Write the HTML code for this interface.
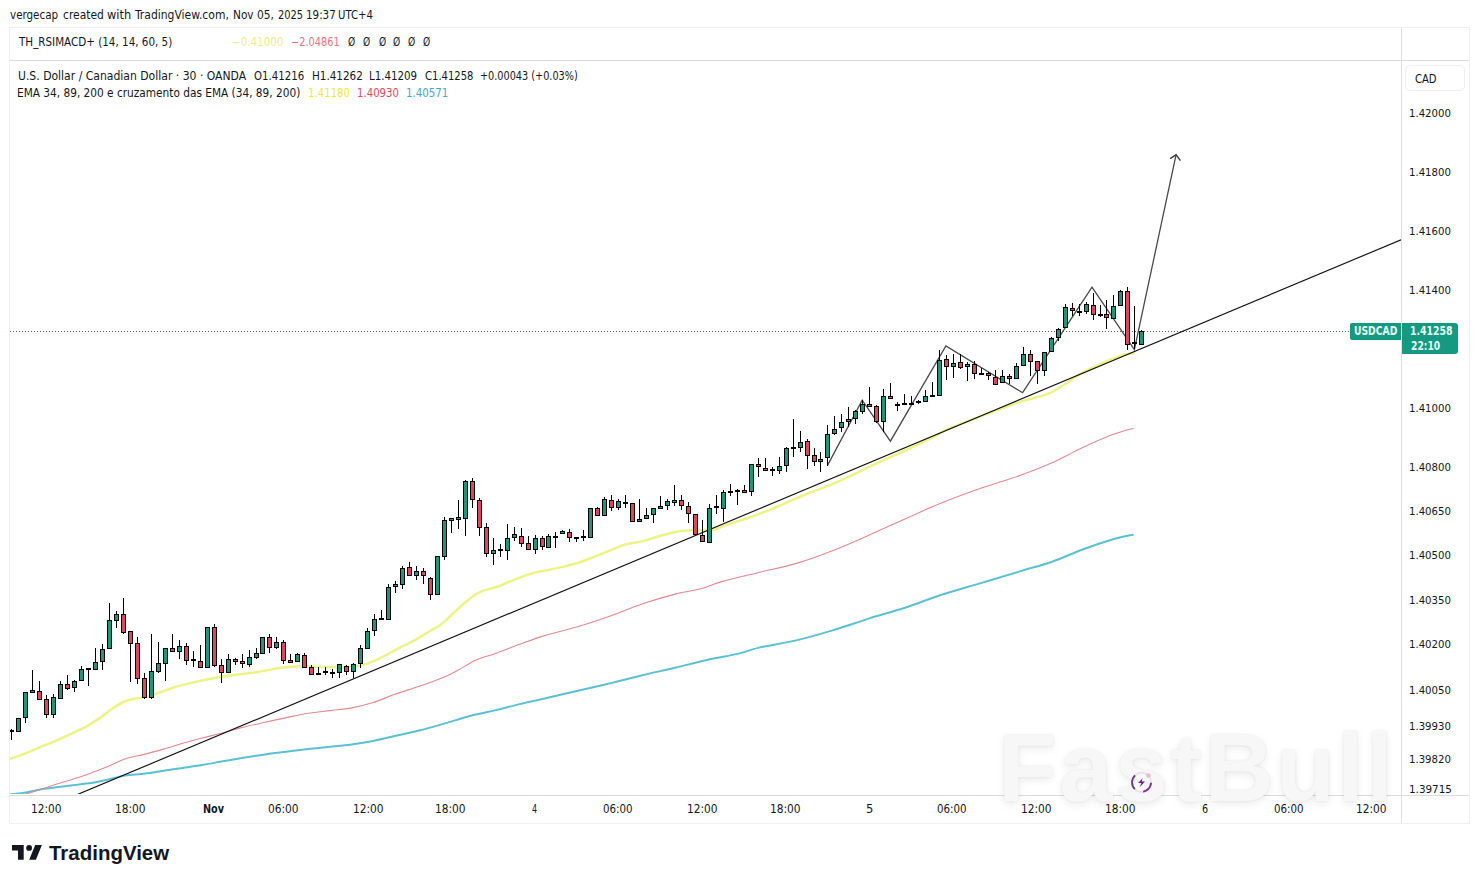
<!DOCTYPE html>
<html><head><meta charset="utf-8">
<style>
html,body{margin:0;padding:0;background:#fff;}
body{width:1479px;height:883px;position:relative;overflow:hidden;font-family:"DejaVu Sans","Liberation Sans",sans-serif;color:#131722;}
.t{position:absolute;white-space:nowrap;line-height:1;transform-origin:0 0;}
.chart{position:absolute;left:0;top:0;}
.frame{position:absolute;box-sizing:border-box;}
.wm{position:absolute;left:998px;top:720.2px;font-family:"Liberation Sans",sans-serif;font-weight:bold;font-size:96px;letter-spacing:2.3px;color:#f7f7f7;text-shadow:0 0 3px rgba(0,0,0,0.07),0 3px 8px rgba(0,0,0,0.08);white-space:nowrap;line-height:1;}
</style></head>
<body>
<!-- outer frame -->
<div class="frame" style="left:9px;top:27px;width:1461px;height:797px;border:1.5px solid #efefef;"></div>
<!-- pane separator -->
<div class="frame" style="left:10px;top:60px;width:1459px;height:1px;background:#dcdcdc;"></div>
<!-- price axis separator -->
<div class="frame" style="left:1401px;top:28px;width:1px;height:795px;background:#dedede;"></div>
<!-- time axis separator -->
<div class="frame" style="left:10px;top:795px;width:1459px;height:1px;background:#dcdcdc;"></div>
<!-- CAD box -->
<div class="frame" style="left:1405px;top:65px;width:60px;height:26px;border:1.5px solid #eeeeee;border-radius:5px;"></div>
<!-- watermark -->
<div class="wm">FastBull</div>

<svg class="chart" width="1479" height="883" viewBox="0 0 1479 883">
<defs><clipPath id="pane"><rect x="10" y="61" width="1391" height="733"/></clipPath></defs>
<g clip-path="url(#pane)">
<line x1="10" y1="331.5" x2="1350" y2="331.5" stroke="#3f6f68" stroke-width="1" stroke-dasharray="1 2"/>

<path d="M8,794.8 C8.33,794.73 6.97,794.8 10,794.4 C13.03,794 20.78,793.28 26.2,792.4 C31.62,791.52 37.08,789.98 42.5,789.1 C47.92,788.22 53.3,787.78 58.7,787.1 C64.1,786.42 69.5,785.68 74.9,785 C80.3,784.32 85.68,783.87 91.1,783 C96.52,782.13 101.75,781.03 107.4,779.8 C113.05,778.57 118.85,776.62 125,775.6 C131.15,774.58 137.88,774.5 144.3,773.7 C150.72,772.9 157.08,771.77 163.5,770.8 C169.92,769.83 176.38,768.87 182.8,767.9 C189.22,766.93 195.58,766.05 202,765 C208.42,763.95 214.88,762.72 221.3,761.6 C227.72,760.48 233.22,759.5 240.5,758.3 C247.78,757.1 257.32,755.5 265,754.4 C272.68,753.3 279.38,752.6 286.6,751.7 C293.82,750.8 301.08,749.82 308.3,749 C315.52,748.18 322.7,747.57 329.9,746.8 C337.1,746.03 344.28,745.38 351.5,744.4 C358.72,743.42 365.98,742.3 373.2,740.9 C380.42,739.5 387,737.77 394.8,736 C402.6,734.23 411.65,732.4 420,730.3 C428.35,728.2 436.6,725.78 444.9,723.4 C453.2,721.02 461.48,718.17 469.8,716 C478.12,713.83 486.48,712.38 494.8,710.4 C503.12,708.42 511.4,706.08 519.7,704.1 C528,702.12 534.55,700.82 544.6,698.5 C554.65,696.18 568.82,692.8 580,690.2 C591.18,687.6 601.13,685.43 611.7,682.9 C622.27,680.37 632.83,677.52 643.4,675 C653.97,672.48 664.52,670.32 675.1,667.8 C685.68,665.28 696.32,662.27 706.9,659.9 C717.48,657.53 729.75,655.68 738.6,653.6 C747.45,651.52 750.4,649.6 760,647.4 C769.6,645.2 784.12,643.23 796.2,640.4 C808.28,637.57 820.42,634.03 832.5,630.4 C844.58,626.77 856.63,622.37 868.7,618.6 C880.77,614.83 893.02,611.68 904.9,607.8 C916.78,603.92 927.35,599.42 940,595.3 C952.65,591.18 967.22,587.17 980.8,583.1 C994.38,579.03 1009.62,574.47 1021.5,570.9 C1033.38,567.33 1041.9,565.27 1052.1,561.7 C1062.3,558.13 1072.5,553.23 1082.7,549.5 C1092.9,545.77 1104.8,541.78 1113.3,539.3 C1121.8,536.82 1130.3,535.38 1133.7,534.6" fill="none" stroke="#5cc0d3" stroke-width="2.0" stroke-linejoin="round"/>
<path d="M23.8,794.8 C26.92,793.78 36.68,790.6 42.5,788.7 C48.32,786.8 53.3,785.1 58.7,783.4 C64.1,781.7 69.5,780.25 74.9,778.5 C80.3,776.75 85.68,774.85 91.1,772.9 C96.52,770.95 101.75,769.13 107.4,766.8 C113.05,764.47 118.85,760.97 125,758.9 C131.15,756.83 137.88,756.03 144.3,754.4 C150.72,752.77 157.08,750.95 163.5,749.1 C169.92,747.25 176.38,745.15 182.8,743.3 C189.22,741.45 195.58,739.68 202,738 C208.42,736.32 214.88,734.88 221.3,733.2 C227.72,731.52 233.22,729.72 240.5,727.9 C247.78,726.08 257.32,724.02 265,722.3 C272.68,720.58 279.38,719.1 286.6,717.6 C293.82,716.1 301.08,714.47 308.3,713.3 C315.52,712.13 322.7,711.5 329.9,710.6 C337.1,709.7 344.28,709.25 351.5,707.9 C358.72,706.55 365.98,704.77 373.2,702.5 C380.42,700.23 387,697.03 394.8,694.3 C402.6,691.57 411.65,689.03 420,686.1 C428.35,683.17 438.67,679.3 444.9,676.7 C451.13,674.1 452.2,673.3 457.4,670.5 C462.6,667.7 469.87,662.7 476.1,659.9 C482.33,657.1 487.53,656.3 494.8,653.7 C502.07,651.1 511.4,647.32 519.7,644.3 C528,641.28 534.55,638.65 544.6,635.6 C554.65,632.55 568.82,629.35 580,626 C591.18,622.65 601.13,619.23 611.7,615.5 C622.27,611.77 632.83,607.17 643.4,603.6 C653.97,600.03 665.85,596.48 675.1,594.1 C684.35,591.72 690.97,591.42 698.9,589.3 C706.83,587.18 712.52,584.25 722.7,581.4 C732.88,578.55 747.75,575.2 760,572.2 C772.25,569.2 784.12,566.98 796.2,563.4 C808.28,559.82 820.42,555.38 832.5,550.7 C844.58,546.02 856.63,540.58 868.7,535.3 C880.77,530.02 893.02,524.28 904.9,519 C916.78,513.72 927.35,508.72 940,503.6 C952.65,498.48 967.22,493.07 980.8,488.3 C994.38,483.53 1009.62,479.25 1021.5,475 C1033.38,470.75 1041.9,467.38 1052.1,462.8 C1062.3,458.22 1072.5,452.25 1082.7,447.5 C1092.9,442.75 1104.8,437.52 1113.3,434.3 C1121.8,431.08 1130.3,429.22 1133.7,428.2" fill="none" stroke="#e08a90" stroke-width="1.1" stroke-linejoin="round"/>
<path d="M8,759.6 C8.4,759.47 7.35,759.88 10.4,758.8 C13.45,757.72 21.15,755.12 26.3,753.1 C31.45,751.08 36.9,748.52 41.3,746.7 C45.7,744.88 48.92,743.78 52.7,742.2 C56.48,740.62 60.23,738.93 64,737.2 C67.77,735.47 71.53,733.6 75.3,731.8 C79.07,730 82.6,728.63 86.6,726.4 C90.6,724.17 95.17,721.25 99.3,718.4 C103.43,715.55 107.35,712.03 111.4,709.3 C115.45,706.57 119.53,703.83 123.6,702 C127.67,700.17 131.73,699.22 135.8,698.3 C139.87,697.38 143.95,697.5 148,696.5 C152.05,695.5 156.05,693.72 160.1,692.3 C164.15,690.88 168.98,689.12 172.3,688 C175.62,686.88 174.43,686.97 180,685.6 C185.57,684.23 197.13,681.52 205.7,679.8 C214.27,678.08 222.83,676.58 231.4,675.3 C239.97,674.02 248.53,673.38 257.1,672.1 C265.67,670.82 275.32,668.57 282.8,667.6 C290.28,666.63 294.97,666.4 302,666.3 C309.03,666.2 317.5,666.88 325,667 C332.5,667.12 340.75,667.32 347,667 C353.25,666.68 357.2,666.47 362.5,665.1 C367.8,663.73 372.97,661.52 378.8,658.8 C384.63,656.08 391.25,652.03 397.5,648.8 C403.75,645.57 410.88,642.37 416.3,639.4 C421.72,636.43 426.02,633.37 430,631 C433.98,628.63 436.8,627.7 440.2,625.2 C443.6,622.7 447,619.12 450.4,616 C453.8,612.88 457.2,609.55 460.6,606.5 C464,603.45 467.4,600.18 470.8,597.7 C474.2,595.22 477.6,593.13 481,591.6 C484.4,590.07 488.03,589.47 491.2,588.5 C494.37,587.53 495.82,587.42 500,585.8 C504.18,584.18 510.45,581.02 516.3,578.8 C522.15,576.58 530.32,573.87 535.1,572.5 C539.88,571.13 540.58,571.5 545,570.6 C549.42,569.7 555.77,568.5 561.6,567.1 C567.43,565.7 574.58,563.92 580,562.2 C585.42,560.48 589.05,558.78 594.1,556.8 C599.15,554.82 605.25,552.32 610.3,550.3 C615.35,548.28 618.98,546.23 624.4,544.7 C629.82,543.17 637.03,542.52 642.8,541.1 C648.57,539.68 653.6,537.73 659,536.2 C664.4,534.67 670.15,532.88 675.2,531.9 C680.25,530.92 682.97,530.65 689.3,530.3 C695.63,529.95 707.02,530.7 713.2,529.8 C719.38,528.9 721.27,526.67 726.4,524.9 C731.53,523.13 738.15,521.17 744,519.2 C749.85,517.23 755.65,515.3 761.5,513.1 C767.35,510.9 773.23,508.5 779.1,506 C784.97,503.5 790.83,500.58 796.7,498.1 C802.57,495.62 809.08,493.13 814.3,491.1 C819.52,489.07 821.82,488.48 828,485.9 C834.18,483.32 843.12,479.43 851.4,475.6 C859.68,471.77 868.92,467 877.7,462.9 C886.48,458.8 895.3,455.1 904.1,451 C912.9,446.9 922.85,442.12 930.5,438.3 C938.15,434.48 941.42,431.83 950,428.1 C958.58,424.37 971.33,419.97 982,415.9 C992.67,411.83 1006,406.5 1014,403.7 C1022,400.9 1024.83,400.57 1030,399.1 C1035.17,397.63 1040.97,396.28 1045,394.9 C1049.03,393.52 1050.3,392.97 1054.2,390.8 C1058.1,388.63 1063.67,384.92 1068.4,381.9 C1073.13,378.88 1077.87,375.42 1082.6,372.7 C1087.33,369.98 1092.07,367.8 1096.8,365.6 C1101.53,363.4 1106.27,361.4 1111,359.5 C1115.73,357.6 1121.3,355.2 1125.2,354.2 C1129.1,353.2 1132.87,353.62 1134.4,353.5" fill="none" stroke="#eef385" stroke-width="2.5" stroke-linejoin="round"/>

<line x1="77.2" y1="794.6" x2="1401" y2="239.8" stroke="#111" stroke-width="1.15"/>
<polyline points="827.5,465.4 862.2,400.2 890.4,441.2 945.9,346 1022.6,392.7 1092,287.2 1134.4,349.7 1176.1,154.6" fill="none" stroke="#4a4a4a" stroke-width="1.3" stroke-linejoin="miter"/>
<polyline points="1170.2,158.6 1176.1,154.6 1180.4,160.6" fill="none" stroke="#3a3a3a" stroke-width="1.4"/>
<rect x="11" y="729" width="1" height="11" fill="#000"/><rect x="9" y="730" width="5" height="2" fill="#000"/><rect x="18" y="718" width="1" height="14" fill="#000"/><rect x="16" y="718" width="5" height="14" fill="#000"/><rect x="17" y="719" width="3" height="12" fill="#22947b"/><rect x="25" y="692" width="1" height="31" fill="#000"/><rect x="23" y="692" width="5" height="26" fill="#000"/><rect x="24" y="693" width="3" height="24" fill="#22947b"/><rect x="32" y="670" width="1" height="22" fill="#000"/><rect x="30" y="690" width="5" height="3" fill="#000"/><rect x="31" y="691" width="3" height="1" fill="#22947b"/><rect x="39" y="681" width="1" height="19" fill="#000"/><rect x="37" y="691" width="5" height="9" fill="#000"/><rect x="38" y="692" width="3" height="7" fill="#dc475c"/><rect x="46" y="695" width="1" height="23" fill="#000"/><rect x="44" y="699" width="5" height="16" fill="#000"/><rect x="45" y="700" width="3" height="14" fill="#dc475c"/><rect x="53" y="694" width="1" height="24" fill="#000"/><rect x="51" y="697" width="5" height="18" fill="#000"/><rect x="52" y="698" width="3" height="16" fill="#22947b"/><rect x="60" y="681" width="1" height="18" fill="#000"/><rect x="58" y="684" width="5" height="15" fill="#000"/><rect x="59" y="685" width="3" height="13" fill="#22947b"/><rect x="67" y="675" width="1" height="15" fill="#000"/><rect x="65" y="684" width="5" height="5" fill="#000"/><rect x="66" y="685" width="3" height="3" fill="#dc475c"/><rect x="74" y="680" width="1" height="12" fill="#000"/><rect x="72" y="681" width="5" height="7" fill="#000"/><rect x="73" y="682" width="3" height="5" fill="#22947b"/><rect x="81" y="666" width="1" height="15" fill="#000"/><rect x="79" y="669" width="5" height="12" fill="#000"/><rect x="80" y="670" width="3" height="10" fill="#22947b"/><rect x="88" y="669" width="1" height="17" fill="#000"/><rect x="86" y="668" width="5" height="2" fill="#000"/><rect x="95" y="648" width="1" height="22" fill="#000"/><rect x="93" y="662" width="5" height="8" fill="#000"/><rect x="94" y="663" width="3" height="6" fill="#22947b"/><rect x="102" y="644" width="1" height="26" fill="#000"/><rect x="100" y="649" width="5" height="13" fill="#000"/><rect x="101" y="650" width="3" height="11" fill="#22947b"/><rect x="109" y="603" width="1" height="46" fill="#000"/><rect x="107" y="620" width="5" height="29" fill="#000"/><rect x="108" y="621" width="3" height="27" fill="#22947b"/><rect x="116" y="611" width="1" height="17" fill="#000"/><rect x="114" y="614" width="5" height="7" fill="#000"/><rect x="115" y="615" width="3" height="5" fill="#22947b"/><rect x="123" y="598" width="1" height="36" fill="#000"/><rect x="121" y="614" width="5" height="19" fill="#000"/><rect x="122" y="615" width="3" height="17" fill="#dc475c"/><rect x="130" y="631" width="1" height="51" fill="#000"/><rect x="128" y="631" width="5" height="13" fill="#000"/><rect x="129" y="632" width="3" height="11" fill="#dc475c"/><rect x="137" y="637" width="1" height="47" fill="#000"/><rect x="135" y="643" width="5" height="36" fill="#000"/><rect x="136" y="644" width="3" height="34" fill="#dc475c"/><rect x="144" y="673" width="1" height="26" fill="#000"/><rect x="142" y="678" width="5" height="20" fill="#000"/><rect x="143" y="679" width="3" height="18" fill="#dc475c"/><rect x="151" y="634" width="1" height="65" fill="#000"/><rect x="149" y="671" width="5" height="27" fill="#000"/><rect x="150" y="672" width="3" height="25" fill="#22947b"/><rect x="158" y="642" width="1" height="31" fill="#000"/><rect x="156" y="663" width="5" height="9" fill="#000"/><rect x="157" y="664" width="3" height="7" fill="#22947b"/><rect x="165" y="648" width="1" height="33" fill="#000"/><rect x="163" y="648" width="5" height="16" fill="#000"/><rect x="164" y="649" width="3" height="14" fill="#22947b"/><rect x="172" y="634" width="1" height="18" fill="#000"/><rect x="170" y="648" width="5" height="4" fill="#000"/><rect x="171" y="649" width="3" height="2" fill="#dc475c"/><rect x="179" y="640" width="1" height="19" fill="#000"/><rect x="177" y="646" width="5" height="6" fill="#000"/><rect x="178" y="647" width="3" height="4" fill="#22947b"/><rect x="186" y="643" width="1" height="22" fill="#000"/><rect x="184" y="646" width="5" height="15" fill="#000"/><rect x="185" y="647" width="3" height="13" fill="#dc475c"/><rect x="193" y="651" width="1" height="16" fill="#000"/><rect x="191" y="659" width="5" height="2" fill="#000"/><rect x="200" y="645" width="1" height="23" fill="#000"/><rect x="198" y="661" width="5" height="7" fill="#000"/><rect x="199" y="662" width="3" height="5" fill="#dc475c"/><rect x="207" y="627" width="1" height="41" fill="#000"/><rect x="205" y="627" width="5" height="41" fill="#000"/><rect x="206" y="628" width="3" height="39" fill="#22947b"/><rect x="214" y="624" width="1" height="43" fill="#000"/><rect x="212" y="627" width="5" height="39" fill="#000"/><rect x="213" y="628" width="3" height="37" fill="#dc475c"/><rect x="221" y="659" width="1" height="24" fill="#000"/><rect x="219" y="665" width="5" height="8" fill="#000"/><rect x="220" y="666" width="3" height="6" fill="#dc475c"/><rect x="228" y="654" width="1" height="19" fill="#000"/><rect x="226" y="659" width="5" height="14" fill="#000"/><rect x="227" y="660" width="3" height="12" fill="#22947b"/><rect x="235" y="658" width="1" height="7" fill="#000"/><rect x="233" y="659" width="5" height="3" fill="#000"/><rect x="234" y="660" width="3" height="1" fill="#dc475c"/><rect x="242" y="654" width="1" height="14" fill="#000"/><rect x="240" y="661" width="5" height="3" fill="#000"/><rect x="241" y="662" width="3" height="1" fill="#dc475c"/><rect x="249" y="650" width="1" height="17" fill="#000"/><rect x="247" y="657" width="5" height="8" fill="#000"/><rect x="248" y="658" width="3" height="6" fill="#22947b"/><rect x="256" y="648" width="1" height="11" fill="#000"/><rect x="254" y="653" width="5" height="5" fill="#000"/><rect x="255" y="654" width="3" height="3" fill="#22947b"/><rect x="262" y="637" width="1" height="17" fill="#000"/><rect x="260" y="637" width="5" height="17" fill="#000"/><rect x="261" y="638" width="3" height="15" fill="#22947b"/><rect x="269" y="634" width="1" height="19" fill="#000"/><rect x="267" y="637" width="5" height="11" fill="#000"/><rect x="268" y="638" width="3" height="9" fill="#dc475c"/><rect x="276" y="637" width="1" height="12" fill="#000"/><rect x="274" y="642" width="5" height="6" fill="#000"/><rect x="275" y="643" width="3" height="4" fill="#22947b"/><rect x="283" y="640" width="1" height="24" fill="#000"/><rect x="281" y="642" width="5" height="19" fill="#000"/><rect x="282" y="643" width="3" height="17" fill="#dc475c"/><rect x="290" y="654" width="1" height="8" fill="#000"/><rect x="288" y="660" width="5" height="3" fill="#000"/><rect x="289" y="661" width="3" height="1" fill="#dc475c"/><rect x="297" y="653" width="1" height="9" fill="#000"/><rect x="295" y="654" width="5" height="8" fill="#000"/><rect x="296" y="655" width="3" height="6" fill="#22947b"/><rect x="304" y="653" width="1" height="15" fill="#000"/><rect x="302" y="655" width="5" height="13" fill="#000"/><rect x="303" y="656" width="3" height="11" fill="#dc475c"/><rect x="311" y="665" width="1" height="10" fill="#000"/><rect x="309" y="667" width="5" height="8" fill="#000"/><rect x="310" y="668" width="3" height="6" fill="#dc475c"/><rect x="318" y="667" width="1" height="7" fill="#000"/><rect x="316" y="673" width="5" height="2" fill="#000"/><rect x="325" y="667" width="1" height="8" fill="#000"/><rect x="323" y="671" width="5" height="2" fill="#000"/><rect x="332" y="669" width="1" height="9" fill="#000"/><rect x="330" y="672" width="5" height="2" fill="#000"/><rect x="339" y="664" width="1" height="14" fill="#000"/><rect x="337" y="664" width="5" height="9" fill="#000"/><rect x="338" y="665" width="3" height="7" fill="#22947b"/><rect x="346" y="665" width="1" height="10" fill="#000"/><rect x="344" y="666" width="5" height="6" fill="#000"/><rect x="345" y="667" width="3" height="4" fill="#dc475c"/><rect x="353" y="663" width="1" height="15" fill="#000"/><rect x="351" y="664" width="5" height="8" fill="#000"/><rect x="352" y="665" width="3" height="6" fill="#22947b"/><rect x="360" y="645" width="1" height="23" fill="#000"/><rect x="358" y="648" width="5" height="16" fill="#000"/><rect x="359" y="649" width="3" height="14" fill="#22947b"/><rect x="367" y="628" width="1" height="21" fill="#000"/><rect x="365" y="631" width="5" height="18" fill="#000"/><rect x="366" y="632" width="3" height="16" fill="#22947b"/><rect x="374" y="614" width="1" height="22" fill="#000"/><rect x="372" y="619" width="5" height="12" fill="#000"/><rect x="373" y="620" width="3" height="10" fill="#22947b"/><rect x="381" y="610" width="1" height="9" fill="#000"/><rect x="379" y="618" width="5" height="2" fill="#000"/><rect x="388" y="584" width="1" height="36" fill="#000"/><rect x="386" y="587" width="5" height="33" fill="#000"/><rect x="387" y="588" width="3" height="31" fill="#22947b"/><rect x="395" y="581" width="1" height="12" fill="#000"/><rect x="393" y="584" width="5" height="3" fill="#000"/><rect x="394" y="585" width="3" height="1" fill="#22947b"/><rect x="402" y="566" width="1" height="23" fill="#000"/><rect x="400" y="568" width="5" height="17" fill="#000"/><rect x="401" y="569" width="3" height="15" fill="#22947b"/><rect x="409" y="562" width="1" height="14" fill="#000"/><rect x="407" y="567" width="5" height="9" fill="#000"/><rect x="408" y="568" width="3" height="7" fill="#dc475c"/><rect x="416" y="566" width="1" height="14" fill="#000"/><rect x="414" y="571" width="5" height="5" fill="#000"/><rect x="415" y="572" width="3" height="3" fill="#22947b"/><rect x="423" y="568" width="1" height="16" fill="#000"/><rect x="421" y="571" width="5" height="5" fill="#000"/><rect x="422" y="572" width="3" height="3" fill="#dc475c"/><rect x="430" y="577" width="1" height="23" fill="#000"/><rect x="428" y="578" width="5" height="17" fill="#000"/><rect x="429" y="579" width="3" height="15" fill="#dc475c"/><rect x="437" y="556" width="1" height="39" fill="#000"/><rect x="435" y="556" width="5" height="39" fill="#000"/><rect x="436" y="557" width="3" height="37" fill="#22947b"/><rect x="444" y="517" width="1" height="43" fill="#000"/><rect x="442" y="520" width="5" height="37" fill="#000"/><rect x="443" y="521" width="3" height="35" fill="#22947b"/><rect x="451" y="518" width="1" height="15" fill="#000"/><rect x="449" y="518" width="5" height="3" fill="#000"/><rect x="450" y="519" width="3" height="1" fill="#22947b"/><rect x="458" y="500" width="1" height="29" fill="#000"/><rect x="456" y="517" width="5" height="3" fill="#000"/><rect x="457" y="518" width="3" height="1" fill="#22947b"/><rect x="465" y="480" width="1" height="56" fill="#000"/><rect x="463" y="481" width="5" height="38" fill="#000"/><rect x="464" y="482" width="3" height="36" fill="#22947b"/><rect x="472" y="478" width="1" height="30" fill="#000"/><rect x="470" y="481" width="5" height="19" fill="#000"/><rect x="471" y="482" width="3" height="17" fill="#dc475c"/><rect x="479" y="498" width="1" height="38" fill="#000"/><rect x="477" y="500" width="5" height="28" fill="#000"/><rect x="478" y="501" width="3" height="26" fill="#dc475c"/><rect x="486" y="523" width="1" height="34" fill="#000"/><rect x="484" y="527" width="5" height="27" fill="#000"/><rect x="485" y="528" width="3" height="25" fill="#dc475c"/><rect x="493" y="538" width="1" height="27" fill="#000"/><rect x="491" y="550" width="5" height="4" fill="#000"/><rect x="492" y="551" width="3" height="2" fill="#22947b"/><rect x="500" y="544" width="1" height="13" fill="#000"/><rect x="498" y="549" width="5" height="2" fill="#000"/><rect x="507" y="524" width="1" height="36" fill="#000"/><rect x="505" y="538" width="5" height="13" fill="#000"/><rect x="506" y="539" width="3" height="11" fill="#22947b"/><rect x="514" y="527" width="1" height="14" fill="#000"/><rect x="512" y="534" width="5" height="4" fill="#000"/><rect x="513" y="535" width="3" height="2" fill="#22947b"/><rect x="521" y="528" width="1" height="19" fill="#000"/><rect x="519" y="536" width="5" height="8" fill="#000"/><rect x="520" y="537" width="3" height="6" fill="#dc475c"/><rect x="528" y="536" width="1" height="14" fill="#000"/><rect x="526" y="543" width="5" height="7" fill="#000"/><rect x="527" y="544" width="3" height="5" fill="#dc475c"/><rect x="535" y="535" width="1" height="19" fill="#000"/><rect x="533" y="538" width="5" height="12" fill="#000"/><rect x="534" y="539" width="3" height="10" fill="#22947b"/><rect x="542" y="536" width="1" height="14" fill="#000"/><rect x="540" y="538" width="5" height="9" fill="#000"/><rect x="541" y="539" width="3" height="7" fill="#dc475c"/><rect x="548" y="534" width="1" height="14" fill="#000"/><rect x="546" y="536" width="5" height="12" fill="#000"/><rect x="547" y="537" width="3" height="10" fill="#22947b"/><rect x="555" y="532" width="1" height="16" fill="#000"/><rect x="553" y="536" width="5" height="2" fill="#000"/><rect x="562" y="530" width="1" height="4" fill="#000"/><rect x="560" y="531" width="5" height="3" fill="#000"/><rect x="561" y="532" width="3" height="1" fill="#22947b"/><rect x="569" y="529" width="1" height="13" fill="#000"/><rect x="567" y="532" width="5" height="6" fill="#000"/><rect x="568" y="533" width="3" height="4" fill="#dc475c"/><rect x="576" y="537" width="1" height="5" fill="#000"/><rect x="574" y="537" width="5" height="2" fill="#000"/><rect x="583" y="530" width="1" height="11" fill="#000"/><rect x="581" y="536" width="5" height="2" fill="#000"/><rect x="590" y="508" width="1" height="30" fill="#000"/><rect x="588" y="508" width="5" height="30" fill="#000"/><rect x="589" y="509" width="3" height="28" fill="#22947b"/><rect x="597" y="507" width="1" height="9" fill="#000"/><rect x="595" y="508" width="5" height="8" fill="#000"/><rect x="596" y="509" width="3" height="6" fill="#dc475c"/><rect x="604" y="497" width="1" height="19" fill="#000"/><rect x="602" y="499" width="5" height="17" fill="#000"/><rect x="603" y="500" width="3" height="15" fill="#22947b"/><rect x="611" y="495" width="1" height="16" fill="#000"/><rect x="609" y="500" width="5" height="8" fill="#000"/><rect x="610" y="501" width="3" height="6" fill="#dc475c"/><rect x="618" y="499" width="1" height="11" fill="#000"/><rect x="616" y="501" width="5" height="7" fill="#000"/><rect x="617" y="502" width="3" height="5" fill="#22947b"/><rect x="625" y="495" width="1" height="13" fill="#000"/><rect x="623" y="502" width="5" height="2" fill="#000"/><rect x="632" y="503" width="1" height="19" fill="#000"/><rect x="630" y="503" width="5" height="19" fill="#000"/><rect x="631" y="504" width="3" height="17" fill="#dc475c"/><rect x="639" y="499" width="1" height="22" fill="#000"/><rect x="637" y="519" width="5" height="3" fill="#000"/><rect x="638" y="520" width="3" height="1" fill="#22947b"/><rect x="646" y="508" width="1" height="11" fill="#000"/><rect x="644" y="515" width="5" height="4" fill="#000"/><rect x="645" y="516" width="3" height="2" fill="#22947b"/><rect x="653" y="508" width="1" height="15" fill="#000"/><rect x="651" y="508" width="5" height="7" fill="#000"/><rect x="652" y="509" width="3" height="5" fill="#22947b"/><rect x="660" y="496" width="1" height="13" fill="#000"/><rect x="658" y="506" width="5" height="3" fill="#000"/><rect x="659" y="507" width="3" height="1" fill="#22947b"/><rect x="667" y="499" width="1" height="11" fill="#000"/><rect x="665" y="501" width="5" height="5" fill="#000"/><rect x="666" y="502" width="3" height="3" fill="#22947b"/><rect x="674" y="485" width="1" height="21" fill="#000"/><rect x="672" y="500" width="5" height="3" fill="#000"/><rect x="673" y="501" width="3" height="1" fill="#22947b"/><rect x="681" y="495" width="1" height="15" fill="#000"/><rect x="679" y="500" width="5" height="6" fill="#000"/><rect x="680" y="501" width="3" height="4" fill="#dc475c"/><rect x="688" y="502" width="1" height="21" fill="#000"/><rect x="686" y="506" width="5" height="8" fill="#000"/><rect x="687" y="507" width="3" height="6" fill="#dc475c"/><rect x="695" y="514" width="1" height="21" fill="#000"/><rect x="693" y="514" width="5" height="21" fill="#000"/><rect x="694" y="515" width="3" height="19" fill="#dc475c"/><rect x="702" y="520" width="1" height="22" fill="#000"/><rect x="700" y="535" width="5" height="7" fill="#000"/><rect x="701" y="536" width="3" height="5" fill="#dc475c"/><rect x="709" y="504" width="1" height="39" fill="#000"/><rect x="707" y="508" width="5" height="35" fill="#000"/><rect x="708" y="509" width="3" height="33" fill="#22947b"/><rect x="716" y="495" width="1" height="19" fill="#000"/><rect x="714" y="506" width="5" height="2" fill="#000"/><rect x="723" y="490" width="1" height="32" fill="#000"/><rect x="721" y="492" width="5" height="17" fill="#000"/><rect x="722" y="493" width="3" height="15" fill="#22947b"/><rect x="730" y="484" width="1" height="12" fill="#000"/><rect x="728" y="491" width="5" height="2" fill="#000"/><rect x="737" y="489" width="1" height="16" fill="#000"/><rect x="735" y="490" width="5" height="2" fill="#000"/><rect x="744" y="485" width="1" height="8" fill="#000"/><rect x="742" y="490" width="5" height="3" fill="#000"/><rect x="743" y="491" width="3" height="1" fill="#dc475c"/><rect x="751" y="464" width="1" height="32" fill="#000"/><rect x="749" y="464" width="5" height="28" fill="#000"/><rect x="750" y="465" width="3" height="26" fill="#22947b"/><rect x="758" y="458" width="1" height="19" fill="#000"/><rect x="756" y="464" width="5" height="3" fill="#000"/><rect x="757" y="465" width="3" height="1" fill="#dc475c"/><rect x="765" y="458" width="1" height="13" fill="#000"/><rect x="763" y="468" width="5" height="3" fill="#000"/><rect x="764" y="469" width="3" height="1" fill="#dc475c"/><rect x="772" y="467" width="1" height="9" fill="#000"/><rect x="770" y="469" width="5" height="2" fill="#000"/><rect x="779" y="457" width="1" height="17" fill="#000"/><rect x="777" y="466" width="5" height="5" fill="#000"/><rect x="778" y="467" width="3" height="3" fill="#22947b"/><rect x="786" y="447" width="1" height="25" fill="#000"/><rect x="784" y="448" width="5" height="18" fill="#000"/><rect x="785" y="449" width="3" height="16" fill="#22947b"/><rect x="793" y="419" width="1" height="38" fill="#000"/><rect x="791" y="447" width="5" height="2" fill="#000"/><rect x="800" y="431" width="1" height="21" fill="#000"/><rect x="798" y="442" width="5" height="6" fill="#000"/><rect x="799" y="443" width="3" height="4" fill="#22947b"/><rect x="807" y="439" width="1" height="30" fill="#000"/><rect x="805" y="441" width="5" height="15" fill="#000"/><rect x="806" y="442" width="3" height="13" fill="#dc475c"/><rect x="814" y="448" width="1" height="18" fill="#000"/><rect x="812" y="455" width="5" height="7" fill="#000"/><rect x="813" y="456" width="3" height="5" fill="#dc475c"/><rect x="820" y="452" width="1" height="20" fill="#000"/><rect x="818" y="459" width="5" height="3" fill="#000"/><rect x="819" y="460" width="3" height="1" fill="#22947b"/><rect x="827" y="425" width="1" height="41" fill="#000"/><rect x="825" y="434" width="5" height="24" fill="#000"/><rect x="826" y="435" width="3" height="22" fill="#22947b"/><rect x="834" y="416" width="1" height="19" fill="#000"/><rect x="832" y="429" width="5" height="5" fill="#000"/><rect x="833" y="430" width="3" height="3" fill="#22947b"/><rect x="841" y="414" width="1" height="18" fill="#000"/><rect x="839" y="422" width="5" height="6" fill="#000"/><rect x="840" y="423" width="3" height="4" fill="#22947b"/><rect x="848" y="407" width="1" height="20" fill="#000"/><rect x="846" y="419" width="5" height="3" fill="#000"/><rect x="847" y="420" width="3" height="1" fill="#22947b"/><rect x="855" y="410" width="1" height="14" fill="#000"/><rect x="853" y="411" width="5" height="8" fill="#000"/><rect x="854" y="412" width="3" height="6" fill="#22947b"/><rect x="862" y="400" width="1" height="14" fill="#000"/><rect x="860" y="404" width="5" height="8" fill="#000"/><rect x="861" y="405" width="3" height="6" fill="#22947b"/><rect x="869" y="387" width="1" height="20" fill="#000"/><rect x="867" y="404" width="5" height="3" fill="#000"/><rect x="868" y="405" width="3" height="1" fill="#dc475c"/><rect x="876" y="405" width="1" height="18" fill="#000"/><rect x="874" y="406" width="5" height="16" fill="#000"/><rect x="875" y="407" width="3" height="14" fill="#dc475c"/><rect x="883" y="389" width="1" height="43" fill="#000"/><rect x="881" y="396" width="5" height="26" fill="#000"/><rect x="882" y="397" width="3" height="24" fill="#22947b"/><rect x="890" y="383" width="1" height="15" fill="#000"/><rect x="888" y="396" width="5" height="3" fill="#000"/><rect x="889" y="397" width="3" height="1" fill="#dc475c"/><rect x="897" y="402" width="1" height="9" fill="#000"/><rect x="895" y="404" width="5" height="2" fill="#000"/><rect x="904" y="394" width="1" height="11" fill="#000"/><rect x="902" y="403" width="5" height="2" fill="#000"/><rect x="911" y="396" width="1" height="8" fill="#000"/><rect x="909" y="403" width="5" height="2" fill="#000"/><rect x="918" y="400" width="1" height="4" fill="#000"/><rect x="916" y="401" width="5" height="2" fill="#000"/><rect x="925" y="390" width="1" height="12" fill="#000"/><rect x="923" y="396" width="5" height="6" fill="#000"/><rect x="924" y="397" width="3" height="4" fill="#22947b"/><rect x="932" y="382" width="1" height="15" fill="#000"/><rect x="930" y="395" width="5" height="2" fill="#000"/><rect x="939" y="350" width="1" height="46" fill="#000"/><rect x="937" y="360" width="5" height="36" fill="#000"/><rect x="938" y="361" width="3" height="34" fill="#22947b"/><rect x="946" y="355" width="1" height="25" fill="#000"/><rect x="944" y="359" width="5" height="8" fill="#000"/><rect x="945" y="360" width="3" height="6" fill="#dc475c"/><rect x="953" y="354" width="1" height="24" fill="#000"/><rect x="951" y="363" width="5" height="4" fill="#000"/><rect x="952" y="364" width="3" height="2" fill="#22947b"/><rect x="960" y="354" width="1" height="15" fill="#000"/><rect x="958" y="362" width="5" height="6" fill="#000"/><rect x="959" y="363" width="3" height="4" fill="#dc475c"/><rect x="967" y="362" width="1" height="19" fill="#000"/><rect x="965" y="364" width="5" height="3" fill="#000"/><rect x="966" y="365" width="3" height="1" fill="#22947b"/><rect x="974" y="361" width="1" height="18" fill="#000"/><rect x="972" y="364" width="5" height="10" fill="#000"/><rect x="973" y="365" width="3" height="8" fill="#dc475c"/><rect x="981" y="368" width="1" height="7" fill="#000"/><rect x="979" y="373" width="5" height="2" fill="#000"/><rect x="988" y="372" width="1" height="8" fill="#000"/><rect x="986" y="373" width="5" height="3" fill="#000"/><rect x="987" y="374" width="3" height="1" fill="#dc475c"/><rect x="995" y="370" width="1" height="15" fill="#000"/><rect x="993" y="377" width="5" height="8" fill="#000"/><rect x="994" y="378" width="3" height="6" fill="#dc475c"/><rect x="1002" y="370" width="1" height="13" fill="#000"/><rect x="1000" y="376" width="5" height="7" fill="#000"/><rect x="1001" y="377" width="3" height="5" fill="#22947b"/><rect x="1009" y="374" width="1" height="10" fill="#000"/><rect x="1007" y="376" width="5" height="3" fill="#000"/><rect x="1008" y="377" width="3" height="1" fill="#dc475c"/><rect x="1016" y="363" width="1" height="16" fill="#000"/><rect x="1014" y="366" width="5" height="13" fill="#000"/><rect x="1015" y="367" width="3" height="11" fill="#22947b"/><rect x="1023" y="347" width="1" height="19" fill="#000"/><rect x="1021" y="354" width="5" height="12" fill="#000"/><rect x="1022" y="355" width="3" height="10" fill="#22947b"/><rect x="1030" y="350" width="1" height="26" fill="#000"/><rect x="1028" y="354" width="5" height="8" fill="#000"/><rect x="1029" y="355" width="3" height="6" fill="#dc475c"/><rect x="1037" y="361" width="1" height="23" fill="#000"/><rect x="1035" y="361" width="5" height="10" fill="#000"/><rect x="1036" y="362" width="3" height="8" fill="#dc475c"/><rect x="1044" y="352" width="1" height="24" fill="#000"/><rect x="1042" y="352" width="5" height="19" fill="#000"/><rect x="1043" y="353" width="3" height="17" fill="#22947b"/><rect x="1051" y="337" width="1" height="15" fill="#000"/><rect x="1049" y="338" width="5" height="14" fill="#000"/><rect x="1050" y="339" width="3" height="12" fill="#22947b"/><rect x="1058" y="328" width="1" height="13" fill="#000"/><rect x="1056" y="329" width="5" height="9" fill="#000"/><rect x="1057" y="330" width="3" height="7" fill="#22947b"/><rect x="1065" y="304" width="1" height="24" fill="#000"/><rect x="1063" y="307" width="5" height="21" fill="#000"/><rect x="1064" y="308" width="3" height="19" fill="#22947b"/><rect x="1072" y="303" width="1" height="13" fill="#000"/><rect x="1070" y="308" width="5" height="3" fill="#000"/><rect x="1071" y="309" width="3" height="1" fill="#dc475c"/><rect x="1079" y="304" width="1" height="12" fill="#000"/><rect x="1077" y="311" width="5" height="2" fill="#000"/><rect x="1086" y="302" width="1" height="12" fill="#000"/><rect x="1084" y="304" width="5" height="8" fill="#000"/><rect x="1085" y="305" width="3" height="6" fill="#22947b"/><rect x="1093" y="293" width="1" height="27" fill="#000"/><rect x="1091" y="305" width="5" height="10" fill="#000"/><rect x="1092" y="306" width="3" height="8" fill="#dc475c"/><rect x="1100" y="305" width="1" height="12" fill="#000"/><rect x="1098" y="314" width="5" height="2" fill="#000"/><rect x="1106" y="300" width="1" height="29" fill="#000"/><rect x="1104" y="314" width="5" height="4" fill="#000"/><rect x="1105" y="315" width="3" height="2" fill="#dc475c"/><rect x="1113" y="295" width="1" height="24" fill="#000"/><rect x="1111" y="306" width="5" height="13" fill="#000"/><rect x="1112" y="307" width="3" height="11" fill="#22947b"/><rect x="1120" y="290" width="1" height="16" fill="#000"/><rect x="1118" y="291" width="5" height="15" fill="#000"/><rect x="1119" y="292" width="3" height="13" fill="#22947b"/><rect x="1127" y="287" width="1" height="63" fill="#000"/><rect x="1125" y="291" width="5" height="54" fill="#000"/><rect x="1126" y="292" width="3" height="52" fill="#dc475c"/><rect x="1134" y="306" width="1" height="43" fill="#000"/><rect x="1132" y="342" width="5" height="2" fill="#000"/><rect x="1141" y="330" width="1" height="15" fill="#000"/><rect x="1139" y="331" width="5" height="14" fill="#000"/><rect x="1140" y="332" width="3" height="12" fill="#22947b"/>
</g>
</svg>

<!-- current price labels -->
<div class="frame" style="left:1350px;top:323px;width:51px;height:17px;background:#149a80;border-radius:2px 0 0 2px;"></div>
<div class="frame" style="left:1402px;top:323px;width:56px;height:31px;background:#149a80;border-radius:0 3px 3px 0;"></div>

<!-- lightning icon -->
<svg style="position:absolute;left:1128px;top:769px" width="28" height="28" viewBox="0 0 28 28">
<circle cx="13.5" cy="13.3" r="9.6" fill="none" stroke="#e8e0ec" stroke-width="1.8"/>
<path d="M 7.1 6.4 A 9.6 9.6 0 0 0 6.9 20.2" fill="none" stroke="#6b3c84" stroke-width="1.9"/>
<path d="M 23.1 13.8 A 9.6 9.6 0 0 1 15.2 22.7" fill="none" stroke="#7a2e8e" stroke-width="1.9"/>
<circle cx="20.4" cy="6.5" r="2.3" fill="#f2b8c6"/>
<path d="M14.6 9.2 L10.1 14.1 L13.4 14.1 L11.6 18.3 L17 12.6 L13.7 12.6 Z" fill="#6a2080"/>
</svg>

<!-- TradingView logo -->
<svg style="position:absolute;left:12px;top:845px" width="31" height="16" viewBox="0 0 31 16">
<path d="M0 0 H11.7 V14.7 H6 V5.5 H0 Z" fill="#131722"/>
<circle cx="17.1" cy="2.9" r="2.9" fill="#131722"/>
<path d="M23.2 0 H29.9 L23.9 14.7 H17.2 Z" fill="#131722"/>
</svg>

<div class="t" id="hdr0" style="left:10.40px;top:9.91px;font-size:11.8px;color:#131722;font-family:'DejaVu Sans',sans-serif;font-stretch:condensed;transform:scaleX(0.9756);">vergecap</div>
<div class="t" id="hdr1" style="left:63.19px;top:9.91px;font-size:11.8px;color:#131722;font-family:'DejaVu Sans',sans-serif;font-stretch:condensed;transform:scaleX(1.0127);">created</div>
<div class="t" id="hdr2" style="left:107.16px;top:9.91px;font-size:11.8px;color:#131722;font-family:'DejaVu Sans',sans-serif;font-stretch:condensed;transform:scaleX(1.0720);">with</div>
<div class="t" id="hdr3" style="left:135.40px;top:9.91px;font-size:11.8px;color:#131722;font-family:'DejaVu Sans',sans-serif;font-stretch:condensed;transform:scaleX(1.0174);">TradingView.com,</div>
<div class="t" id="hdr4" style="left:232.59px;top:9.91px;font-size:11.8px;color:#131722;font-family:'DejaVu Sans',sans-serif;font-stretch:condensed;transform:scaleX(0.9957);">Nov</div>
<div class="t" id="hdr5" style="left:256.97px;top:9.91px;font-size:11.8px;color:#131722;font-family:'DejaVu Sans',sans-serif;font-stretch:condensed;transform:scaleX(1.0072);">05,</div>
<div class="t" id="hdr6" style="left:277.81px;top:9.91px;font-size:11.8px;color:#131722;font-family:'DejaVu Sans',sans-serif;font-stretch:condensed;transform:scaleX(0.9312);">2025</div>
<div class="t" id="hdr7" style="left:306.22px;top:9.91px;font-size:11.8px;color:#131722;font-family:'DejaVu Sans',sans-serif;font-stretch:condensed;transform:scaleX(0.9727);">19:37</div>
<div class="t" id="hdr8" style="left:337.86px;top:9.91px;font-size:11.8px;color:#131722;font-family:'DejaVu Sans',sans-serif;font-stretch:condensed;transform:scaleX(0.9536);">UTC+4</div>
<div class="t" id="ind" style="left:18.79px;top:36.91px;font-size:11.6px;color:#131722;font-family:'DejaVu Sans',sans-serif;font-stretch:condensed;transform:scaleX(0.9942);">TH_RSIMACD+ (14, 14, 60, 5)</div>
<div class="t" id="iv1" style="left:232.41px;top:36.91px;font-size:11.6px;color:#eeee88;font-family:'DejaVu Sans',sans-serif;font-stretch:condensed;transform:scaleX(0.9922);">−0.41000</div>
<div class="t" id="iv2" style="left:290.65px;top:36.91px;font-size:11.6px;color:#e9707c;font-family:'DejaVu Sans',sans-serif;font-stretch:condensed;transform:scaleX(0.9376);">−2.04861</div>
<div class="t" id="phi0" style="left:348.00px;top:36.91px;font-size:11.6px;color:#131722;font-family:'DejaVu Sans',sans-serif;font-stretch:condensed;transform:scaleX(0.8750);">Ø</div>
<div class="t" id="phi1" style="left:362.79px;top:36.91px;font-size:11.6px;color:#131722;font-family:'DejaVu Sans',sans-serif;font-stretch:condensed;transform:scaleX(0.8750);">Ø</div>
<div class="t" id="phi2" style="left:378.67px;top:36.91px;font-size:11.6px;color:#131722;font-family:'DejaVu Sans',sans-serif;font-stretch:condensed;transform:scaleX(0.8750);">Ø</div>
<div class="t" id="phi3" style="left:393.45px;top:36.91px;font-size:11.6px;color:#131722;font-family:'DejaVu Sans',sans-serif;font-stretch:condensed;transform:scaleX(0.8750);">Ø</div>
<div class="t" id="phi4" style="left:408.27px;top:36.91px;font-size:11.6px;color:#131722;font-family:'DejaVu Sans',sans-serif;font-stretch:condensed;transform:scaleX(0.8750);">Ø</div>
<div class="t" id="phi5" style="left:423.06px;top:36.91px;font-size:11.6px;color:#131722;font-family:'DejaVu Sans',sans-serif;font-stretch:condensed;transform:scaleX(0.8750);">Ø</div>
<div class="t" id="l1a" style="left:17.99px;top:70.81px;font-size:11.8px;color:#131722;font-family:'DejaVu Sans',sans-serif;font-stretch:condensed;transform:scaleX(1.0206);">U.S. Dollar / Canadian Dollar · 30 · OANDA</div>
<div class="t" id="l1o" style="left:254.23px;top:70.81px;font-size:11.8px;color:#131722;font-family:'DejaVu Sans',sans-serif;font-stretch:condensed;transform:scaleX(0.9595);">O1.41216</div>
<div class="t" id="l1h" style="left:311.62px;top:70.81px;font-size:11.8px;color:#131722;font-family:'DejaVu Sans',sans-serif;font-stretch:condensed;transform:scaleX(0.9783);">H1.41262</div>
<div class="t" id="l1l" style="left:369.03px;top:70.81px;font-size:11.8px;color:#131722;font-family:'DejaVu Sans',sans-serif;font-stretch:condensed;transform:scaleX(0.9671);">L1.41209</div>
<div class="t" id="l1c" style="left:425.22px;top:70.81px;font-size:11.8px;color:#131722;font-family:'DejaVu Sans',sans-serif;font-stretch:condensed;transform:scaleX(0.9446);">C1.41258</div>
<div class="t" id="l1d" style="left:480.04px;top:70.81px;font-size:11.8px;color:#131722;font-family:'DejaVu Sans',sans-serif;font-stretch:condensed;transform:scaleX(0.9133);">+0.00043 (+0.03%)</div>
<div class="t" id="l2a" style="left:17.00px;top:87.61px;font-size:11.8px;color:#131722;font-family:'DejaVu Sans',sans-serif;font-stretch:condensed;transform:scaleX(0.9947);">EMA 34, 89, 200 e cruzamento das EMA (34, 89, 200)</div>
<div class="t" id="l2y" style="left:307.85px;top:87.61px;font-size:11.8px;color:#e8ea45;font-family:'DejaVu Sans',sans-serif;font-stretch:condensed;transform:scaleX(0.9587);">1.41180</div>
<div class="t" id="l2r" style="left:357.45px;top:87.61px;font-size:11.8px;color:#db4b55;font-family:'DejaVu Sans',sans-serif;font-stretch:condensed;transform:scaleX(0.9576);">1.40930</div>
<div class="t" id="l2c" style="left:405.99px;top:87.61px;font-size:11.8px;color:#42aac6;font-family:'DejaVu Sans',sans-serif;font-stretch:condensed;transform:scaleX(0.9658);">1.40571</div>
<div class="t" id="cad" style="left:1414.62px;top:73.91px;font-size:11.8px;color:#131722;font-family:'DejaVu Sans',sans-serif;font-stretch:condensed;transform:scaleX(0.9420);">CAD</div>
<div class="t" id="p0" style="left:1409.39px;top:107.91px;font-size:11.1px;color:#131722;font-family:'DejaVu Sans',sans-serif;font-stretch:condensed;transform:scaleX(1.0153);">1.42000</div>
<div class="t" id="p1" style="left:1409.39px;top:166.71px;font-size:11.1px;color:#131722;font-family:'DejaVu Sans',sans-serif;font-stretch:condensed;transform:scaleX(1.0153);">1.41800</div>
<div class="t" id="p2" style="left:1409.39px;top:225.60px;font-size:11.1px;color:#131722;font-family:'DejaVu Sans',sans-serif;font-stretch:condensed;transform:scaleX(1.0153);">1.41600</div>
<div class="t" id="p3" style="left:1409.39px;top:284.60px;font-size:11.1px;color:#131722;font-family:'DejaVu Sans',sans-serif;font-stretch:condensed;transform:scaleX(1.0153);">1.41400</div>
<div class="t" id="p4" style="left:1409.39px;top:402.60px;font-size:11.1px;color:#131722;font-family:'DejaVu Sans',sans-serif;font-stretch:condensed;transform:scaleX(1.0153);">1.41000</div>
<div class="t" id="p5" style="left:1409.39px;top:461.60px;font-size:11.1px;color:#131722;font-family:'DejaVu Sans',sans-serif;font-stretch:condensed;transform:scaleX(1.0153);">1.40800</div>
<div class="t" id="p6" style="left:1409.39px;top:505.60px;font-size:11.1px;color:#131722;font-family:'DejaVu Sans',sans-serif;font-stretch:condensed;transform:scaleX(1.0153);">1.40650</div>
<div class="t" id="p7" style="left:1409.39px;top:550.10px;font-size:11.1px;color:#131722;font-family:'DejaVu Sans',sans-serif;font-stretch:condensed;transform:scaleX(1.0153);">1.40500</div>
<div class="t" id="p8" style="left:1409.39px;top:594.60px;font-size:11.1px;color:#131722;font-family:'DejaVu Sans',sans-serif;font-stretch:condensed;transform:scaleX(1.0153);">1.40350</div>
<div class="t" id="p9" style="left:1409.39px;top:639.10px;font-size:11.1px;color:#131722;font-family:'DejaVu Sans',sans-serif;font-stretch:condensed;transform:scaleX(1.0153);">1.40200</div>
<div class="t" id="p10" style="left:1409.39px;top:684.90px;font-size:11.1px;color:#131722;font-family:'DejaVu Sans',sans-serif;font-stretch:condensed;transform:scaleX(1.0153);">1.40050</div>
<div class="t" id="p11" style="left:1409.39px;top:721.10px;font-size:11.1px;color:#131722;font-family:'DejaVu Sans',sans-serif;font-stretch:condensed;transform:scaleX(1.0153);">1.39930</div>
<div class="t" id="p12" style="left:1409.39px;top:753.71px;font-size:11.1px;color:#131722;font-family:'DejaVu Sans',sans-serif;font-stretch:condensed;transform:scaleX(1.0153);">1.39820</div>
<div class="t" id="p13" style="left:1409.34px;top:784.40px;font-size:11.1px;color:#131722;font-family:'DejaVu Sans',sans-serif;font-stretch:condensed;transform:scaleX(1.0407);">1.39715</div>
<div class="t" id="t0" style="left:31.16px;top:803.90px;font-size:11.4px;color:#131722;font-family:'DejaVu Sans',sans-serif;font-stretch:condensed;transform:scaleX(1.0357);">12:00</div>
<div class="t" id="t1" style="left:114.77px;top:803.90px;font-size:11.4px;color:#131722;font-family:'DejaVu Sans',sans-serif;font-stretch:condensed;transform:scaleX(1.0357);">18:00</div>
<div class="t" id="t2" style="left:202.95px;top:803.90px;font-size:11.4px;color:#131722;font-family:'DejaVu Sans',sans-serif;font-stretch:condensed;font-weight:bold;transform:scaleX(0.9437);">Nov</div>
<div class="t" id="t3" style="left:268.17px;top:803.90px;font-size:11.4px;color:#131722;font-family:'DejaVu Sans',sans-serif;font-stretch:condensed;transform:scaleX(1.0357);">06:00</div>
<div class="t" id="t4" style="left:352.57px;top:803.90px;font-size:11.4px;color:#131722;font-family:'DejaVu Sans',sans-serif;font-stretch:condensed;transform:scaleX(1.0357);">12:00</div>
<div class="t" id="t5" style="left:435.38px;top:803.90px;font-size:11.4px;color:#131722;font-family:'DejaVu Sans',sans-serif;font-stretch:condensed;transform:scaleX(1.0357);">18:00</div>
<div class="t" id="t6" style="left:531.65px;top:803.90px;font-size:11.4px;color:#131722;font-family:'DejaVu Sans',sans-serif;font-stretch:condensed;transform:scaleX(0.7831);">4</div>
<div class="t" id="t7" style="left:603.00px;top:803.90px;font-size:11.4px;color:#131722;font-family:'DejaVu Sans',sans-serif;font-stretch:condensed;">06:00</div>
<div class="t" id="t8" style="left:686.77px;top:803.90px;font-size:11.4px;color:#131722;font-family:'DejaVu Sans',sans-serif;font-stretch:condensed;transform:scaleX(1.0357);">12:00</div>
<div class="t" id="t9" style="left:770.16px;top:803.90px;font-size:11.4px;color:#131722;font-family:'DejaVu Sans',sans-serif;font-stretch:condensed;transform:scaleX(1.0357);">18:00</div>
<div class="t" id="t10" style="left:865.65px;top:803.90px;font-size:11.4px;color:#131722;font-family:'DejaVu Sans',sans-serif;font-stretch:condensed;transform:scaleX(1.1277);">5</div>
<div class="t" id="t11" style="left:937.00px;top:803.90px;font-size:11.4px;color:#131722;font-family:'DejaVu Sans',sans-serif;font-stretch:condensed;">06:00</div>
<div class="t" id="t12" style="left:1021.37px;top:803.90px;font-size:11.4px;color:#131722;font-family:'DejaVu Sans',sans-serif;font-stretch:condensed;transform:scaleX(1.0357);">12:00</div>
<div class="t" id="t13" style="left:1105.16px;top:803.90px;font-size:11.4px;color:#131722;font-family:'DejaVu Sans',sans-serif;font-stretch:condensed;transform:scaleX(1.0357);">18:00</div>
<div class="t" id="t14" style="left:1201.78px;top:803.90px;font-size:11.4px;color:#131722;font-family:'DejaVu Sans',sans-serif;font-stretch:condensed;transform:scaleX(0.9398);">6</div>
<div class="t" id="t15" style="left:1273.52px;top:803.90px;font-size:11.4px;color:#131722;font-family:'DejaVu Sans',sans-serif;font-stretch:condensed;transform:scaleX(1.0024);">06:00</div>
<div class="t" id="t16" style="left:1356.37px;top:803.90px;font-size:11.4px;color:#131722;font-family:'DejaVu Sans',sans-serif;font-stretch:condensed;transform:scaleX(1.0357);">12:00</div>
<div class="t" id="usd" style="left:1353.85px;top:326.40px;font-size:11.4px;color:#eafff8;font-family:'DejaVu Sans',sans-serif;font-stretch:condensed;font-weight:bold;transform:scaleX(0.8988);">USDCAD</div>
<div class="t" id="lp" style="left:1409.72px;top:326.40px;font-size:11.4px;color:#eafff8;font-family:'DejaVu Sans',sans-serif;font-stretch:condensed;font-weight:bold;transform:scaleX(0.9111);">1.41258</div>
<div class="t" id="lt" style="left:1410.64px;top:340.61px;font-size:11.4px;color:#eafff8;font-family:'DejaVu Sans',sans-serif;font-stretch:condensed;font-weight:bold;transform:scaleX(0.8942);">22:10</div>
<div class="t" id="tv" style="left:49.21px;top:842.90px;font-size:20px;color:#131722;font-family:'Liberation Sans',sans-serif;font-stretch:normal;font-weight:bold;transform:scaleX(1.0229);">TradingView</div>
</body></html>
